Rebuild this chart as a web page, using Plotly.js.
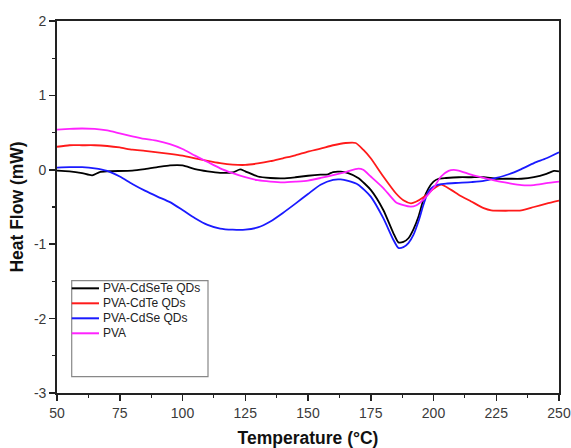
<!DOCTYPE html>
<html>
<head>
<meta charset="utf-8">
<script src="https://cdn.plot.ly/plotly-3.0.1.min.js"></script>
<style>html,body{margin:0;padding:0;background:#fff;}#chart{width:571px;height:448px;}</style>
</head>
<body>
<div id="chart"></div>
<script>
const seriesNames = ["PVA-CdSeTe QDs", "PVA-CdTe QDs", "PVA-CdSe QDs", "PVA"];
const seriesColors = ["#000000", "#ff1a1a", "#1a1aff", "#ff22ff"];

const cdseteT = [50,55,60,64,67,70,80,85,90,95,100,105,110,115,120,123,125,130,135,140,145,150,155,158,160,163,166,170,175,180,184,186,188,190,192,194,196,198,200,202,205,210,215,220,225,230,235,240,245,248,250];
const cdseteHF = [-0.01,-0.02,-0.045,-0.075,-0.03,-0.02,-0.01,0.01,0.035,0.06,0.06,0.01,-0.02,-0.04,-0.035,0.005,-0.02,-0.09,-0.11,-0.115,-0.1,-0.08,-0.065,-0.06,-0.03,-0.025,-0.045,-0.11,-0.27,-0.54,-0.85,-0.975,-0.97,-0.92,-0.8,-0.63,-0.4,-0.25,-0.16,-0.12,-0.11,-0.1,-0.1,-0.1,-0.12,-0.12,-0.12,-0.1,-0.055,-0.015,-0.02];

const cdteT = [50,55,60,65,70,75,80,85,90,95,100,105,110,115,120,125,130,135,140,145,150,155,160,165,169,172,175,180,185,188,191,193,196,200,203,207,210,215,220,223,230,235,240,245,250];
const cdteHF = [0.31,0.33,0.33,0.33,0.32,0.30,0.27,0.255,0.235,0.215,0.19,0.155,0.12,0.09,0.07,0.065,0.085,0.115,0.155,0.195,0.245,0.285,0.33,0.36,0.36,0.27,0.155,-0.09,-0.315,-0.41,-0.45,-0.43,-0.37,-0.255,-0.2,-0.27,-0.335,-0.425,-0.515,-0.545,-0.55,-0.545,-0.5,-0.455,-0.415];

const cdseT = [50,55,60,65,70,75,80,85,90,95,100,105,110,115,120,125,130,135,140,145,150,155,160,163,166,170,175,180,184,186,188,190,192,194,196,198,200,202,205,210,215,220,225,230,235,240,245,250];
const cdseHF = [0.03,0.035,0.035,0.02,-0.015,-0.09,-0.19,-0.28,-0.36,-0.435,-0.54,-0.65,-0.74,-0.79,-0.805,-0.805,-0.775,-0.695,-0.58,-0.455,-0.325,-0.2,-0.135,-0.13,-0.15,-0.2,-0.36,-0.65,-0.94,-1.05,-1.04,-0.985,-0.875,-0.695,-0.47,-0.29,-0.225,-0.2,-0.185,-0.175,-0.165,-0.15,-0.11,-0.06,0.01,0.09,0.155,0.235];

const pvaT = [50,55,60,65,70,75,80,85,90,95,100,105,110,115,120,125,130,135,140,145,150,155,160,165,170,172,175,180,185,188,191,193,196,200,203,206,208,210,215,220,225,230,235,240,245,250];
const pvaHF = [0.54,0.55,0.555,0.55,0.53,0.49,0.45,0.415,0.39,0.345,0.28,0.19,0.105,0.02,-0.045,-0.1,-0.14,-0.16,-0.17,-0.16,-0.145,-0.11,-0.07,-0.03,0.015,0,-0.09,-0.245,-0.435,-0.475,-0.495,-0.48,-0.4,-0.245,-0.09,-0.015,0,-0.01,-0.065,-0.11,-0.15,-0.18,-0.205,-0.205,-0.18,-0.16];

const xTicks = [50,75,100,125,150,175,200,225,250];
const yTicks = [-3,-2,-1,0,1,2];

const xs = [cdseteT, cdteT, cdseT, pvaT];
const ys = [cdseteHF, cdteHF, cdseHF, pvaHF];

const traces = seriesNames.map((n, i) => ({
  x: xs[i], y: ys[i], name: n, type: 'scatter', mode: 'lines', showlegend: false,
  line: {color: seriesColors[i], width: 1.8, shape: 'spline', smoothing: 0.6}
}));

// Legend drawn as shapes + annotations (compact row spacing like the original)
const legShapes = [{type: 'rect', xref: 'paper', yref: 'paper', x0: 0.0293, x1: 0.3008, y0: 0.0438, y1: 0.3019,
                    line: {color: '#888', width: 1.2}, fillcolor: 'rgba(0,0,0,0)'}];
const legAnn = [];
const rowY = [0.2814, 0.2411, 0.2008, 0.1605];
seriesNames.forEach((n, i) => {
  legShapes.push({type: 'line', xref: 'paper', yref: 'paper', x0: 0.0293, x1: 0.0837, y0: rowY[i], y1: rowY[i],
                  line: {color: seriesColors[i], width: 2}});
  legAnn.push({xref: 'paper', yref: 'paper', x: 0.087, y: rowY[i], xanchor: 'left', yanchor: 'middle',
               text: n, showarrow: false, font: {size: 12, color: '#222'}});
});

const layout = {
  width: 571, height: 448,
  margin: {l: 57, r: 12, t: 21, b: 55},
  paper_bgcolor: '#fff', plot_bgcolor: '#fff',
  font: {family: 'Liberation Sans, Arial, sans-serif', color: '#333'},
  showlegend: false,
  xaxis: {range: [50, 250], tickvals: xTicks, ticktext: xTicks.map(String),
          ticks: 'outside', ticklen: 6, tickwidth: 1.5, tickcolor: '#222',
          showline: true, linecolor: '#222', linewidth: 1.8, mirror: true,
          showgrid: false, zeroline: false, tickfont: {size: 14, color: '#3a3a3a'},
          minor: {dtick: 12.5, tick0: 50, ticks: 'outside', ticklen: 3, tickwidth: 1.2, tickcolor: '#222', showgrid: false},
          title: {text: '<b>Temperature (°C)</b>', font: {size: 17.5, color: '#111'}, standoff: 17}},
  yaxis: {range: [-3, 2], tickvals: yTicks, ticktext: yTicks.map(String),
          ticks: 'outside', ticklen: 6, tickwidth: 1.5, tickcolor: '#222',
          showline: true, linecolor: '#222', linewidth: 1.8, mirror: true,
          showgrid: false, zeroline: false, tickfont: {size: 14, color: '#3a3a3a'},
          minor: {dtick: 0.5, tick0: -3, ticks: 'outside', ticklen: 3, tickwidth: 1.2, tickcolor: '#222', showgrid: false},
          title: {text: '<b>Heat Flow (mW)</b>', font: {size: 17.5, color: '#111'}, standoff: 6}},
  shapes: legShapes,
  annotations: legAnn
};

Plotly.newPlot('chart', traces, layout, {displayModeBar: false, staticPlot: true});
</script>
</body>
</html>
